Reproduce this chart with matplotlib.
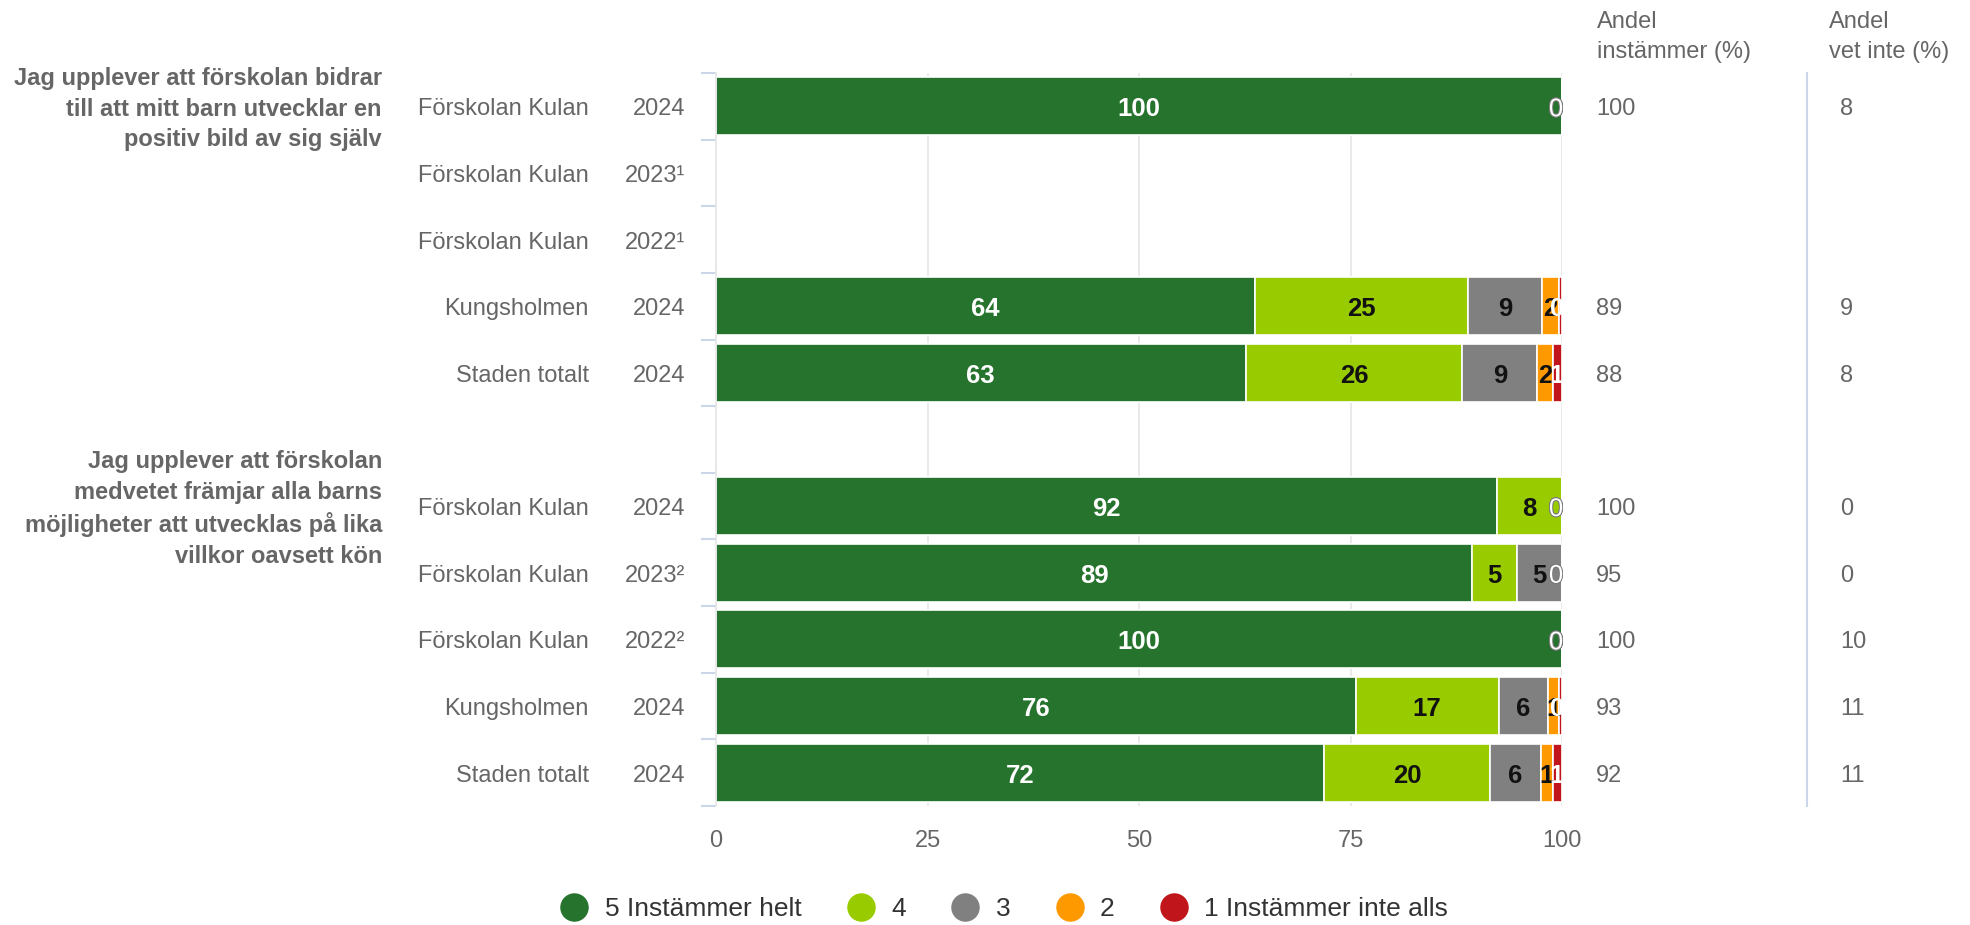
import numpy as np
import matplotlib
matplotlib.use("Agg")
import matplotlib.pyplot as plt
from matplotlib.lines import Line2D
from matplotlib.transforms import blended_transform_factory, offset_copy
import matplotlib.patheffects as pe

plt.rcParams['font.family'] = ['Liberation Sans', 'DejaVu Sans']

# ---------------- data ----------------
questions = [
    "Jag upplever att förskolan bidrar\ntill att mitt barn utvecklar en\npositiv bild av sig själv",
    "Jag upplever att förskolan\nmedvetet främjar alla barns\nmöjligheter att utvecklas på lika\nvillkor oavsett kön",
]
units = ["Förskolan Kulan", "Förskolan Kulan", "Förskolan Kulan", "Kungsholmen", "Staden totalt",
         "Förskolan Kulan", "Förskolan Kulan", "Förskolan Kulan", "Kungsholmen", "Staden totalt"]
years = ["2024", "2023¹", "2022¹", "2024", "2024",
         "2024", "2023²", "2022²", "2024", "2024"]
group_of_row = [0, 0, 0, 0, 0, 1, 1, 1, 1, 1]

series_names = ["5 Instämmer helt", "4", "3", "2", "1 Instämmer inte alls"]
nan = np.nan
s5 = [100.0, nan, nan, 63.7, 62.6, 92.3, 89.4, 100.0, 75.6, 71.9]
s4 = [0.0, nan, nan, 25.2, 25.6, 7.7, 5.3, 0.0, 16.9, 19.6]
s3 = [0.0, nan, nan, 8.7, 8.9, 0.0, 5.3, 0.0, 5.8, 6.0]
s2 = [0.0, nan, nan, 2.0, 1.8, 0.0, 0.0, 0.0, 1.3, 1.4]
s1 = [0.0, nan, nan, 0.4, 1.1, 0.0, 0.0, 0.0, 0.4, 1.1]
series_values = [s5, s4, s3, s2, s1]

andel_instammer = [100, None, None, 89, 88, 100, 95, 100, 93, 92]
andel_vet_inte = [8, None, None, 9, 8, 0, 0, 10, 11, 11]

x_ticks = [0, 25, 50, 75, 100]

# ---------------- style ----------------
colors = ["#26732e", "#99cc00", "#808080", "#ff9900", "#c0161b"]
label_colors = ["white", "#111111", "#111111", "#111111", "white"]
GRAY = "#666666"
AXISBLUE = "#ccd6eb"
FS = 17
FS_LBL = 18.5

W, H = 1970, 925
fig = plt.figure(figsize=(W / 100, H / 100), dpi=100)
ax_left, ax_right, ax_top, ax_bottom = 716, 1562, 73, 806
ax = fig.add_axes([ax_left / W, 1 - ax_bottom / H, (ax_right - ax_left) / W, (ax_bottom - ax_top) / H])

# row positions: a blank slot separates the two questions
ypos = np.array([g * 6 + i for g, i in zip(group_of_row, [0, 1, 2, 3, 4, 0, 1, 2, 3, 4])], dtype=float)
n_slots = 11
ax.set_ylim(n_slots - 0.5, -0.5)
ax.set_xlim(0, 100)

for xv in x_ticks:
    ax.axvline(xv, color="#e6e6e6", lw=1.2, zorder=0)

data_tr = offset_copy(ax.transData, fig=fig, y=-3, units="dots")

bar_h = 0.87
left = np.zeros(len(ypos))
for k, (name, vals) in enumerate(zip(series_names, series_values)):
    v = np.array(vals, dtype=float)
    valid = ~np.isnan(v)
    ax.barh(ypos[valid], v[valid], left=left[valid], height=bar_h, color=colors[k],
            edgecolor="white", linewidth=1.2, zorder=2, label=name)
    for i in np.where(valid)[0]:
        val = v[i]
        if val > 0:
            cx = left[i] + val / 2
            cx = min(cx, 99.4)
            ax.text(cx, ypos[i], f"{int(round(val))}", ha="center", va="center", transform=data_tr,
                    fontsize=FS_LBL, fontweight="bold", color=label_colors[k], zorder=4)
        else:
            ax.text(99.3, ypos[i], "0", ha="center", va="center", fontsize=FS_LBL, transform=data_tr,
                    color="white", zorder=5,
                    path_effects=[pe.withStroke(linewidth=1.2, foreground="#777777")])
    left[valid] += v[valid]

# axes styling
for sp in ["top", "right", "bottom"]:
    ax.spines[sp].set_visible(False)
ax.spines["left"].set_color("#e6e6e6")
ax.spines["left"].set_linewidth(1.2)
ax.set_xticks(x_ticks)
ax.set_xticklabels([str(t) for t in x_ticks], fontsize=FS, color=GRAY)
ax.tick_params(axis="x", length=0, pad=17)
ax.set_yticks(np.arange(-0.5, n_slots, 1.0))
ax.set_yticklabels([])
ax.tick_params(axis="y", length=11, width=1.5, color=AXISBLUE, direction="out")

# row labels
tr = offset_copy(blended_transform_factory(fig.transFigure, ax.transData), fig=fig, y=-3, units="dots")
for i in range(len(ypos)):
    ax.text(589 / W, ypos[i], units[i], transform=tr, ha="right", va="center", fontsize=FS, color=GRAY)
    ax.text(685 / W, ypos[i], years[i], transform=tr, ha="right", va="center", fontsize=FS, color=GRAY)
    if andel_instammer[i] is not None:
        ax.text(1596 / W, ypos[i], str(andel_instammer[i]), transform=tr, ha="left", va="center",
                fontsize=FS, color=GRAY)
    if andel_vet_inte[i] is not None:
        ax.text(1840 / W, ypos[i], str(andel_vet_inte[i]), transform=tr, ha="left", va="center",
                fontsize=FS, color=GRAY)

# question labels
for g, q in enumerate(questions):
    first_row = ypos[group_of_row.index(g)]
    ax.text(382 / W, first_row, q, transform=tr, ha="right", va="center", fontsize=FS,
            fontweight="bold", color="#666666", linespacing=1.42)

# column headers
fig.text(1597 / W, 1 - 37 / H, "Andel\ninstämmer (%)", ha="left", va="center", fontsize=FS,
         color=GRAY, linespacing=1.5)
fig.text(1829 / W, 1 - 37 / H, "Andel\nvet inte (%)", ha="left", va="center", fontsize=FS,
         color=GRAY, linespacing=1.5)

# vertical separator between the two value columns
fig.add_artist(Line2D([1807 / W, 1807 / W], [1 - ax_top / H, 1 - ax_bottom / H],
                      transform=fig.transFigure, color=AXISBLUE, lw=1.5))

# legend
handles = [Line2D([0], [0], marker="o", linestyle="none", markersize=19.5,
                  markerfacecolor=c, markeredgecolor=c) for c in colors]
fig.legend(handles, series_names, loc="center", bbox_to_anchor=(0.51, 1 - 909 / H), ncol=5,
           frameon=False, fontsize=19, labelcolor="#333333", handlelength=1.0,
           handletextpad=0.65, columnspacing=1.75)

fig.savefig("out.png", dpi=100, facecolor="white")
